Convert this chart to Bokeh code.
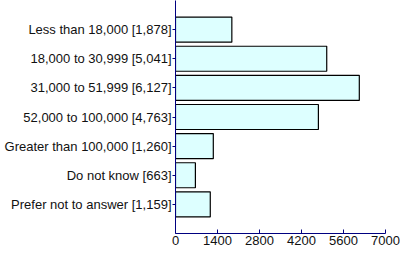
from bokeh.plotting import figure
from bokeh.models import Range1d, FixedTicker, ColumnDataSource
from bokeh.embed import file_html
from bokeh.resources import INLINE

categories = ["Less than 18,000 [1,878]", "18,000 to 30,999 [5,041]", "31,000 to 51,999 [6,127]",
              "52,000 to 100,000 [4,763]", "Greater than 100,000 [1,260]", "Do not know [663]",
              "Prefer not to answer [1,159]"]
values = [1878, 5041, 6127, 4763, 1260, 663, 1159]
x_ticks = [0, 1400, 2800, 4200, 5600, 7000]

pos = list(range(1, len(categories) + 1))
src = ColumnDataSource(dict(y=pos, v=values))

p = figure(width=400, height=254, output_backend="svg", toolbar_location=None,
           x_range=Range1d(0, 7000), y_range=Range1d(8, 0),
           min_border_left=175, min_border_right=15, min_border_top=0, min_border_bottom=21)
p.hbar(y="y", left=0, right="v", height=0.86, source=src,
       fill_color="#DDFFFF", line_color="black", line_width=1.2)

p.xgrid.visible = False
p.ygrid.visible = False
p.outline_line_color = None

p.yaxis.ticker = FixedTicker(ticks=pos)
p.yaxis.major_label_overrides = {i: c for i, c in zip(pos, categories)}
p.yaxis.minor_tick_line_color = None
p.yaxis.major_tick_out = 3
p.yaxis.major_tick_in = 0
p.yaxis.major_label_standoff = 1

p.xaxis.ticker = FixedTicker(ticks=x_ticks)
p.xaxis.minor_tick_line_color = None
p.xaxis.major_tick_out = 0
p.xaxis.major_tick_in = 4
p.xaxis.major_label_standoff = 2

for ax in (p.xaxis, p.yaxis):
    ax.axis_line_color = "#000080"
    ax.major_tick_line_color = "#000080"
    ax.major_label_text_font = "Liberation Sans"
    ax.major_label_text_font_size = "13px"
    ax.major_label_text_color = "#111111"

open("out.html", "w").write(file_html(p, INLINE))
